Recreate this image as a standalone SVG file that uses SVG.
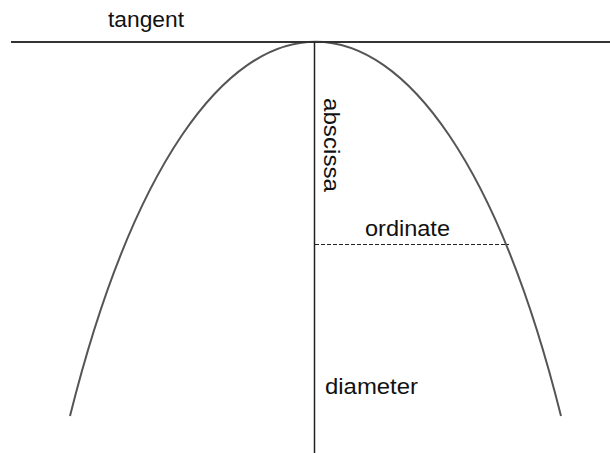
<svg xmlns="http://www.w3.org/2000/svg" width="610" height="453" viewBox="0 0 610 453">
<style>
text{font-family:"Liberation Sans",Arial,sans-serif;font-size:22px;fill:#111}
.curve{fill:none;stroke:#555;stroke-width:2}
.line{stroke:#222;stroke-width:1.5;fill:none}
.tan{stroke:#333;stroke-width:2.2;fill:none}
.dash{stroke:#222;stroke-width:1.2;stroke-dasharray:4 2;fill:none}
</style>
<rect width="610" height="453" fill="#fff"/>
<g id="parabola">
<path class="curve" d="M70,416 C195,-83 436,-83 561,416"/>
</g>
<g id="connectors">
<line id="tangent-line" class="tan" x1="11" y1="42" x2="610" y2="42"/>
<line id="diameter-line" class="line" x1="314.5" y1="42" x2="314.5" y2="453"/>
<line id="ordinate-line" class="dash" x1="315" y1="244.5" x2="509" y2="244.5"/>
</g>
<g id="tangent"><text x="108" y="27" textLength="76" lengthAdjust="spacingAndGlyphs">tangent</text></g>
<g id="abscissa"><text transform="translate(324,98) rotate(90)" x="0" y="0" textLength="94" lengthAdjust="spacingAndGlyphs">abscissa</text></g>
<g id="ordinate"><text x="365" y="236" textLength="85" lengthAdjust="spacingAndGlyphs">ordinate</text></g>
<g id="diameter"><text x="325" y="394" textLength="93" lengthAdjust="spacingAndGlyphs">diameter</text></g>
</svg>
